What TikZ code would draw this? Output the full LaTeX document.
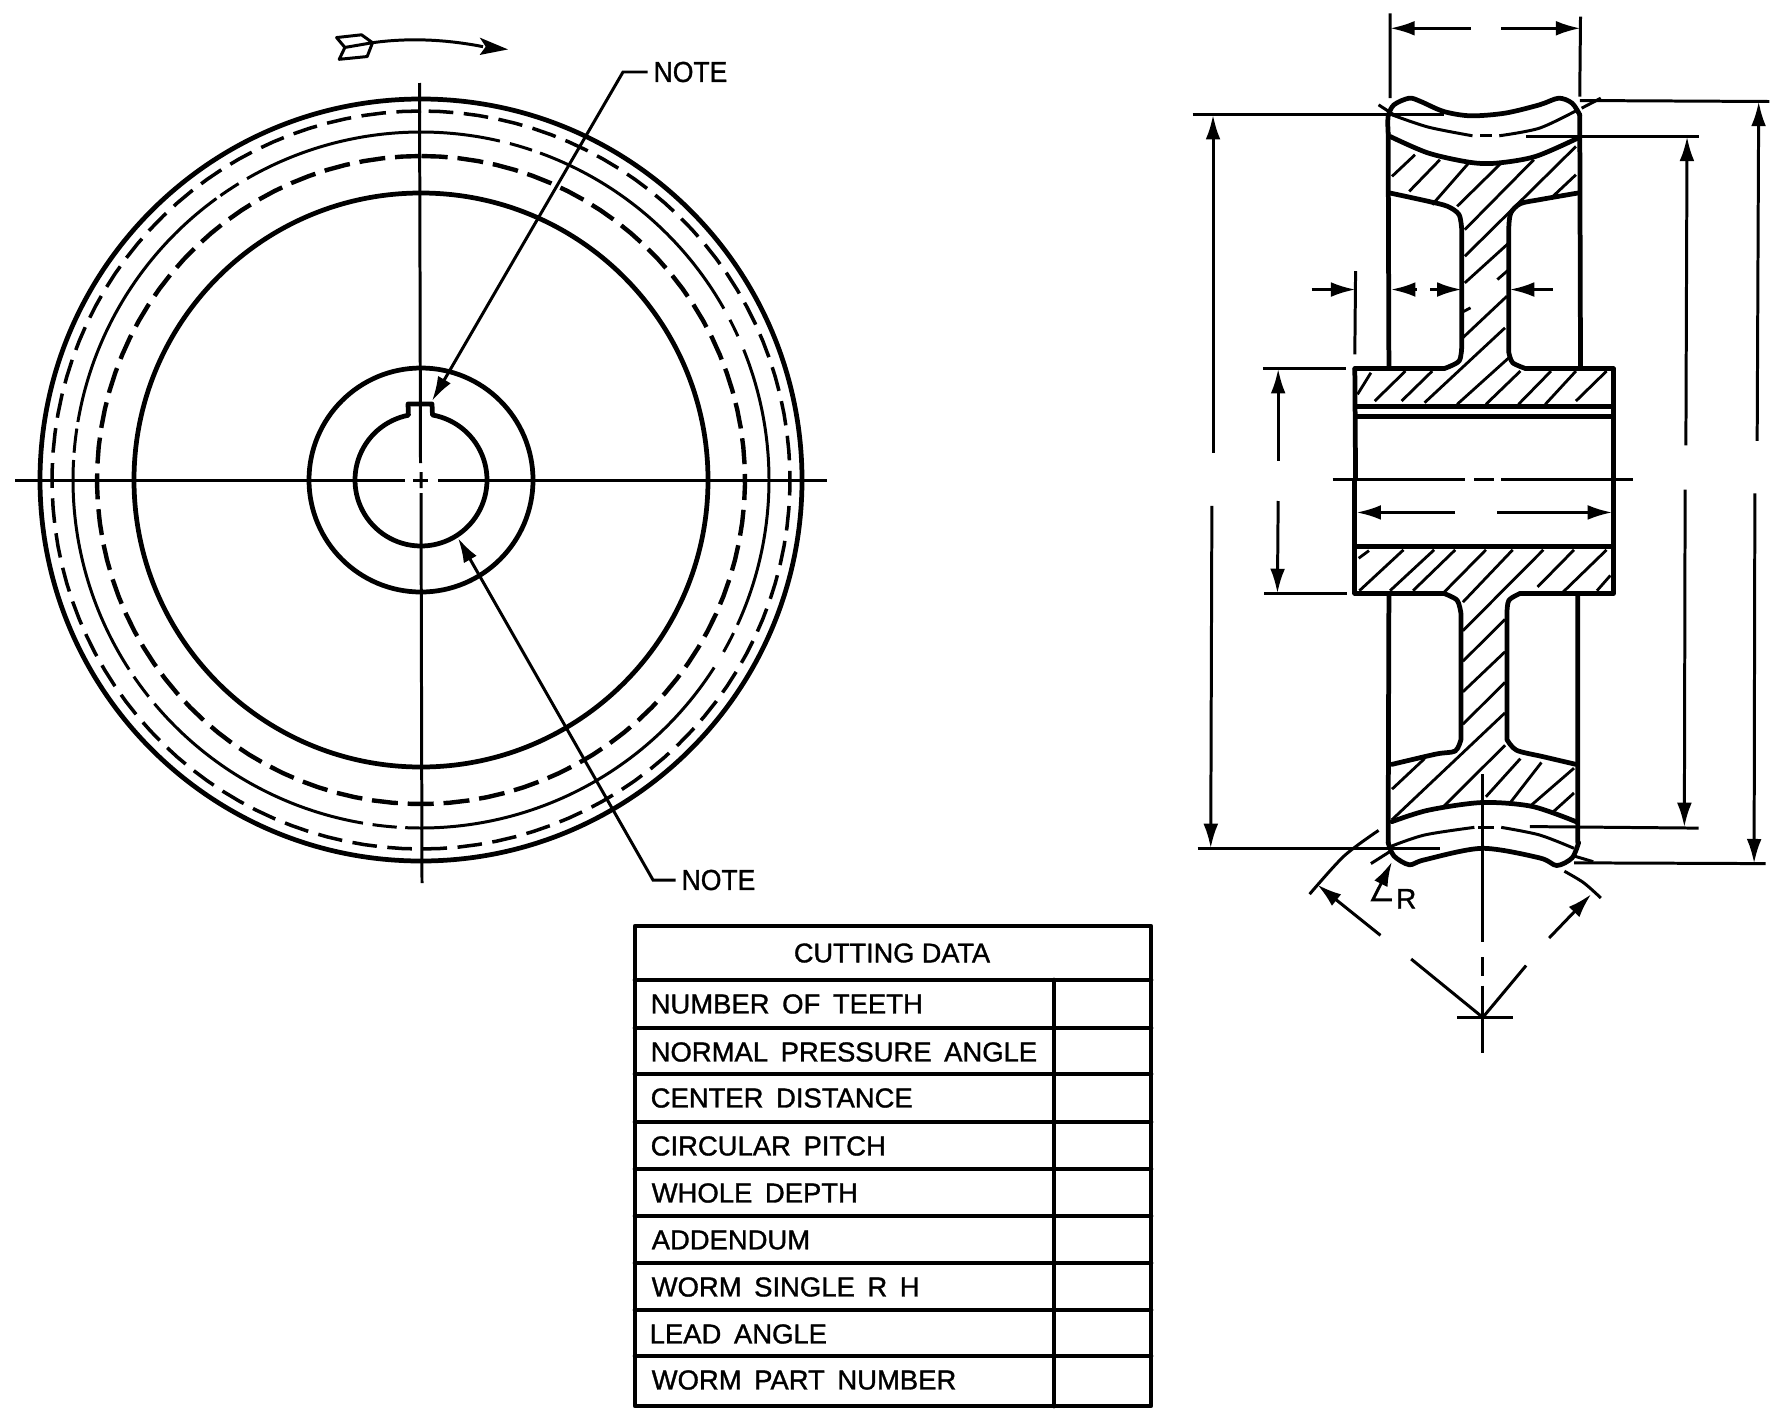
\documentclass[tikz,border=0pt]{standalone}
\usepackage{fontspec}
\setmainfont{Liberation Sans}[RawFeature={embolden=1.2}]
\usetikzlibrary{arrows.meta}
\newcommand{\carc}[4]{\draw[#4] plot[domain=#2:#3,samples=#1/3] ({421+#1*cos(\x)},{480-#1*sin(\x)});}
\tikzset{
  heavy/.style={line width=1.35pt,line join=round,line cap=round},
  mid/.style={line width=.85pt,line join=round},
  hatchln/.style={line width=.8pt},
  dim/.style={line width=.85pt},
  tipped/.style={dim,-{Latex[length=7pt,width=4.2pt]}},
  dashA/.style={line width=1pt,dash pattern=on 7pt off 3pt},
  dashB/.style={line width=1.25pt,dash pattern=on 7.4pt off 2.8pt},
  label/.style={font=\fontsize{7.8}{9.6}\selectfont,inner sep=0pt,execute at begin node={\spaceskip=.46em\relax}},
  headText/.style={font=\fontsize{7.7}{9.6}\selectfont,inner sep=0pt},
  noteText/.style={font=\fontsize{8.2}{9.6}\selectfont,inner sep=0pt,xscale=.92,anchor=west},
  zA/.style={shift={(1179.3,0)},x=0.003837cm,y=-0.003333cm},
  zB/.style={shift={(1179.3,480)},x=0.003837cm,y=-0.003821cm},
  zC/.style={shift={(280,0)},x=0.003333cm,y=-0.00395cm},
}
\begin{document}
\begin{tikzpicture}[x=0.01cm,y=-0.01cm]
\useasboundingbox (0,0) rectangle (1780,1418);
\fill[white] (0,0) rectangle (1780,1418);

% ---------- front view
\draw[heavy] (421,480) circle[radius=381];
\draw[heavy] (421,480) circle[radius=287];
\draw[heavy] (421,480) circle[radius=112];
\carc{369}{90}{450}{dashA}
\carc{324}{90}{450}{dashB}
\carc{348}{22}{-24.6}{mid}
\carc{348}{27.4}{24.4}{mid}
\carc{348}{70}{29.5}{mid}
\carc{348}{75.2}{71.4}{mid}
\carc{348}{120}{76.9}{mid}
\carc{348}{125.2}{121.6}{mid}
\carc{348}{170.4}{126}{mid}
\carc{348}{175.5}{171.5}{mid}
\carc{348}{213}{176.7}{mid}
\carc{348}{218.5}{214.4}{mid}
\carc{348}{260.4}{220}{mid}
\carc{348}{266}{262}{mid}
\carc{348}{327.4}{267.4}{mid}
\carc{348}{333.9}{330.4}{mid}
% bore with keyway
\draw[heavy] plot[domain=101:440,samples=90] ({421+66*cos(\x)},{480-66*sin(\x)}) -- (432,404) -- (408,404) -- cycle;
% centre lines
\draw[mid] (15,480) -- (405,480) (413,480) -- (428,480) (438,480) -- (827,480);
\draw[mid] (419.5,83) -- (420.5,463) (421,472) -- (421,488) (421,493) -- (422,883);

% feathered arrow
\begin{scope}[zC]
\draw[mid] (170,95) -- (245,88) -- (278,108) -- (262,143) -- (178,150) -- (195,120) -- cycle (195,120) -- (278,108);
\draw[mid] (278,108) .. controls (390,95) and (500,100) .. (610,118);
\fill (600,95) -- (685,125) -- (600,139) -- (618,118) -- cycle;
\end{scope}

% notes
\node[noteText] (noteTop) at (653,72) {NOTE};
\node[noteText] (noteBot) at (681,880) {NOTE};
\coordinate (noteTopTip) at (432,401);
\coordinate (noteBotTip) at (458,538);
\draw[tipped] ([xshift=-1.5pt]noteTop.west) -- (623,72) -- (noteTopTip);
\draw[tipped] ([xshift=-1.5pt]noteBot.west) -- (653,880) -- (noteBotTip);

% ---------- section, upper half
\begin{scope}[zA]
\draw[heavy] plot[smooth,tension=.5] coordinates {(545,400)(545,350)(560,315)(600,295)(630,305)(690,335)(760,348)(850,340)(940,315)(990,295)(1025,310)(1045,345)};
\draw[heavy] (545,400) -- (547,1105) (1045,345) -- (1047,1105);
\draw[mid] plot[smooth] coordinates {(555,345)(650,382)(765,408)};
\draw[mid] (785,408) -- (815,408);
\draw[mid] plot[smooth] coordinates {(835,408)(940,385)(1040,330)};
\draw[heavy] plot[smooth] coordinates {(550,410)(650,460)(760,488)(830,490)(930,470)(1040,415)};
\draw[heavy] plot[smooth,tension=.5] coordinates {(550,580)(650,605)(700,620)(730,645)(737,690)} -- (737,1040) -- plot[smooth,tension=.5] coordinates {(737,1040)(730,1085)(690,1108)};
\draw[heavy] plot[smooth,tension=.5] coordinates {(1040,580)(940,600)(890,612)(865,640)(860,680)} -- (860,1060) -- plot[smooth,tension=.5] coordinates {(860,1060)(870,1090)(905,1108)};
\draw[heavy] (458,1108) -- (690,1108) (905,1108) -- (1133,1108);
\draw[heavy] (458,1108) -- (460,1440) (1133,1108) -- (1133,1440);
\draw[heavy] (460,1222) -- (1133,1222) (460,1252) -- (1133,1252);
\foreach \a/\b/\c/\d in {555/530/615/465,600/575/680/480,660/615/755/490,725/620/840/490,745/690/925/480,745/770/1035/440,745/850/860/730,735/1020/855/890,735/940/760/925,830/840/860/810,640/1210/850/985,580/1205/660/1115,510/1205/590/1115,465/1185/500/1120,725/1215/860/1075,800/1215/890/1115,885/1215/970/1115,955/1215/1035/1115,1035/1205/1115/1115,975/590/1035/525}
  \draw[hatchln] (\a,\b) -- (\c,\d);
% centre line of section
\draw[mid] (400,1441) -- (745,1441) (770,1441) -- (820,1441) (840,1441) -- (1185,1441);
% top width dimension
\draw[dim] (550,40) -- (550,295) (1047,50) -- (1045,290);
\draw[tipped] (760,85) -- (550,85);
\draw[tipped] (840,85) -- (1047,85);
% outer ticks
\draw[dim] (520,315) -- (560,345) (1050,325) -- (1100,295);
% big dimension lines
\draw[dim] (35,345) -- (690,345);
\draw[tipped] (88,1360) -- (88,345);
\draw[dim] (218,1108) -- (435,1108);
\draw[tipped] (258,1385) -- (258,1108);
\draw[dim] (905,410) -- (1355,410);
\draw[tipped] (1322,1338) -- (1325,410);
\draw[dim] (1045,302) -- (1540,305);
\draw[tipped] (1508,1325) -- (1512,305);
% web dimensions
\draw[dim] (460,815) -- (458,1065);
\draw[tipped] (345,870) -- (460,870);
\draw[tipped] (620,870) -- (552,870);
\draw[tipped] (655,870) -- (737,870);
\draw[tipped] (975,870) -- (862,870);
\end{scope}

% ---------- section, lower half
\begin{scope}[zB]
\draw[heavy] (458,0) -- (458,297) -- (690,297) (890,297) -- (1133,297) -- (1133,0);
\draw[heavy] (458,175) -- (1133,175);
\draw[heavy] (547,300) -- (545,950) (1040,300) -- (1040,950);
\draw[heavy] plot[smooth,tension=.5] coordinates {(690,297)(725,315)(735,350)} -- (735,680) -- plot[smooth,tension=.5] coordinates {(735,680)(720,710)(670,718)(555,745)};
\draw[heavy] plot[smooth,tension=.5] coordinates {(890,297)(860,315)(855,350)} -- (855,680) -- plot[smooth,tension=.5] coordinates {(855,680)(880,708)(950,725)(1035,745)};
\draw[heavy] plot[smooth] coordinates {(555,895)(650,865)(790,845)(920,855)(1035,895)};
\draw[mid] plot[smooth] coordinates {(552,960)(640,930)(770,910)};
\draw[mid] (780,910) -- (820,910);
\draw[mid] plot[smooth] coordinates {(840,910)(940,930)(1030,965)};
\draw[heavy] plot[smooth,tension=.5] coordinates {(545,950)(560,985)(600,1008)(640,995)(790,965)(940,990)(985,1010)(1025,990)(1042,950)};
\foreach \a/\b/\c/\d in {468/205/495/185,470/290/585/183,550/290/665/183,610/290/720/183,690/295/800/183,740/320/870/183,740/395/950/183,935/280/1030/183,1000/295/1115/183,1090/290/1125/250,740/475/850/365,740/555/850/450,740/640/850/530,555/890/850/610,555/810/640/730,690/855/850/695,800/830/890/730,860/850/945/740,915/855/1030/755,975/870/1030/820}
  \draw[hatchln] (\a,\b) -- (\c,\d);
% bore dimension
\draw[tipped] (720,85) -- (462,85);
\draw[tipped] (830,85) -- (1130,85);
% centre mark
\draw[mid] (792,770) -- (792,1210) (792,1250) -- (792,1300) (792,1325) -- (792,1500);
\draw[mid] (725,1408) -- (870,1408);
\coordinate (ctr) at (792,1408);
\draw[dim] (ctr) -- (605,1255) (ctr) -- (905,1272);
\draw[tipped] (525,1193) -- (360,1060);
\draw[tipped] (965,1200) -- (1075,1085);
\draw[dim] plot[smooth] coordinates {(520,918)(430,985)(340,1085)};
\draw[dim] plot[smooth] coordinates {(1005,1025)(1055,1055)(1100,1095)};
% dimension lines
\draw[dim] (48,965) -- (680,965);
\draw[tipped] (85,68) -- (82,965);
\draw[dim] (222,297) -- (437,297);
\draw[tipped] (258,55) -- (256,297);
\draw[dim] (915,908) -- (1355,912);
\draw[tipped] (1320,25) -- (1318,910);
\draw[dim] (1030,1003) -- (1530,1005);
\draw[tipped] (1502,35) -- (1500,1005);
\draw[dim] (1030,985) -- (1080,1000) (500,1005) -- (555,970);
% radius
\node[font=\fontsize{8}{9}\selectfont,inner sep=0pt] (rad) at (592,1097) {R};
\draw[tipped] (555,1100) -- (505,1100) -- (555,1000);
\end{scope}

% ---------- table
\draw[heavy] (635,926) rectangle (1151,1406);
\foreach \y in {980,1028,1074,1122,1169,1216,1263,1310,1356} \draw[heavy] (635,\y) -- (1151,\y);
\draw[heavy] (1054,980) -- (1054,1406);
\node[headText] (head) at (892,953) {CUTTING DATA};
\foreach \n/\y/\x/\t in {a/1004/650/NUMBER OF TEETH,b/1052/650/NORMAL PRESSURE ANGLE,c/1098/650/CENTER DISTANCE,d/1146/650/CIRCULAR PITCH,e/1193/651/WHOLE DEPTH,f/1240/651/ADDENDUM,g/1287/651/WORM SINGLE R H,h/1334/649/LEAD ANGLE,i/1380/651/WORM PART NUMBER}
  \node[label,anchor=west] (row\n) at (\x,\y) {\t};
\end{tikzpicture}
\end{document}
